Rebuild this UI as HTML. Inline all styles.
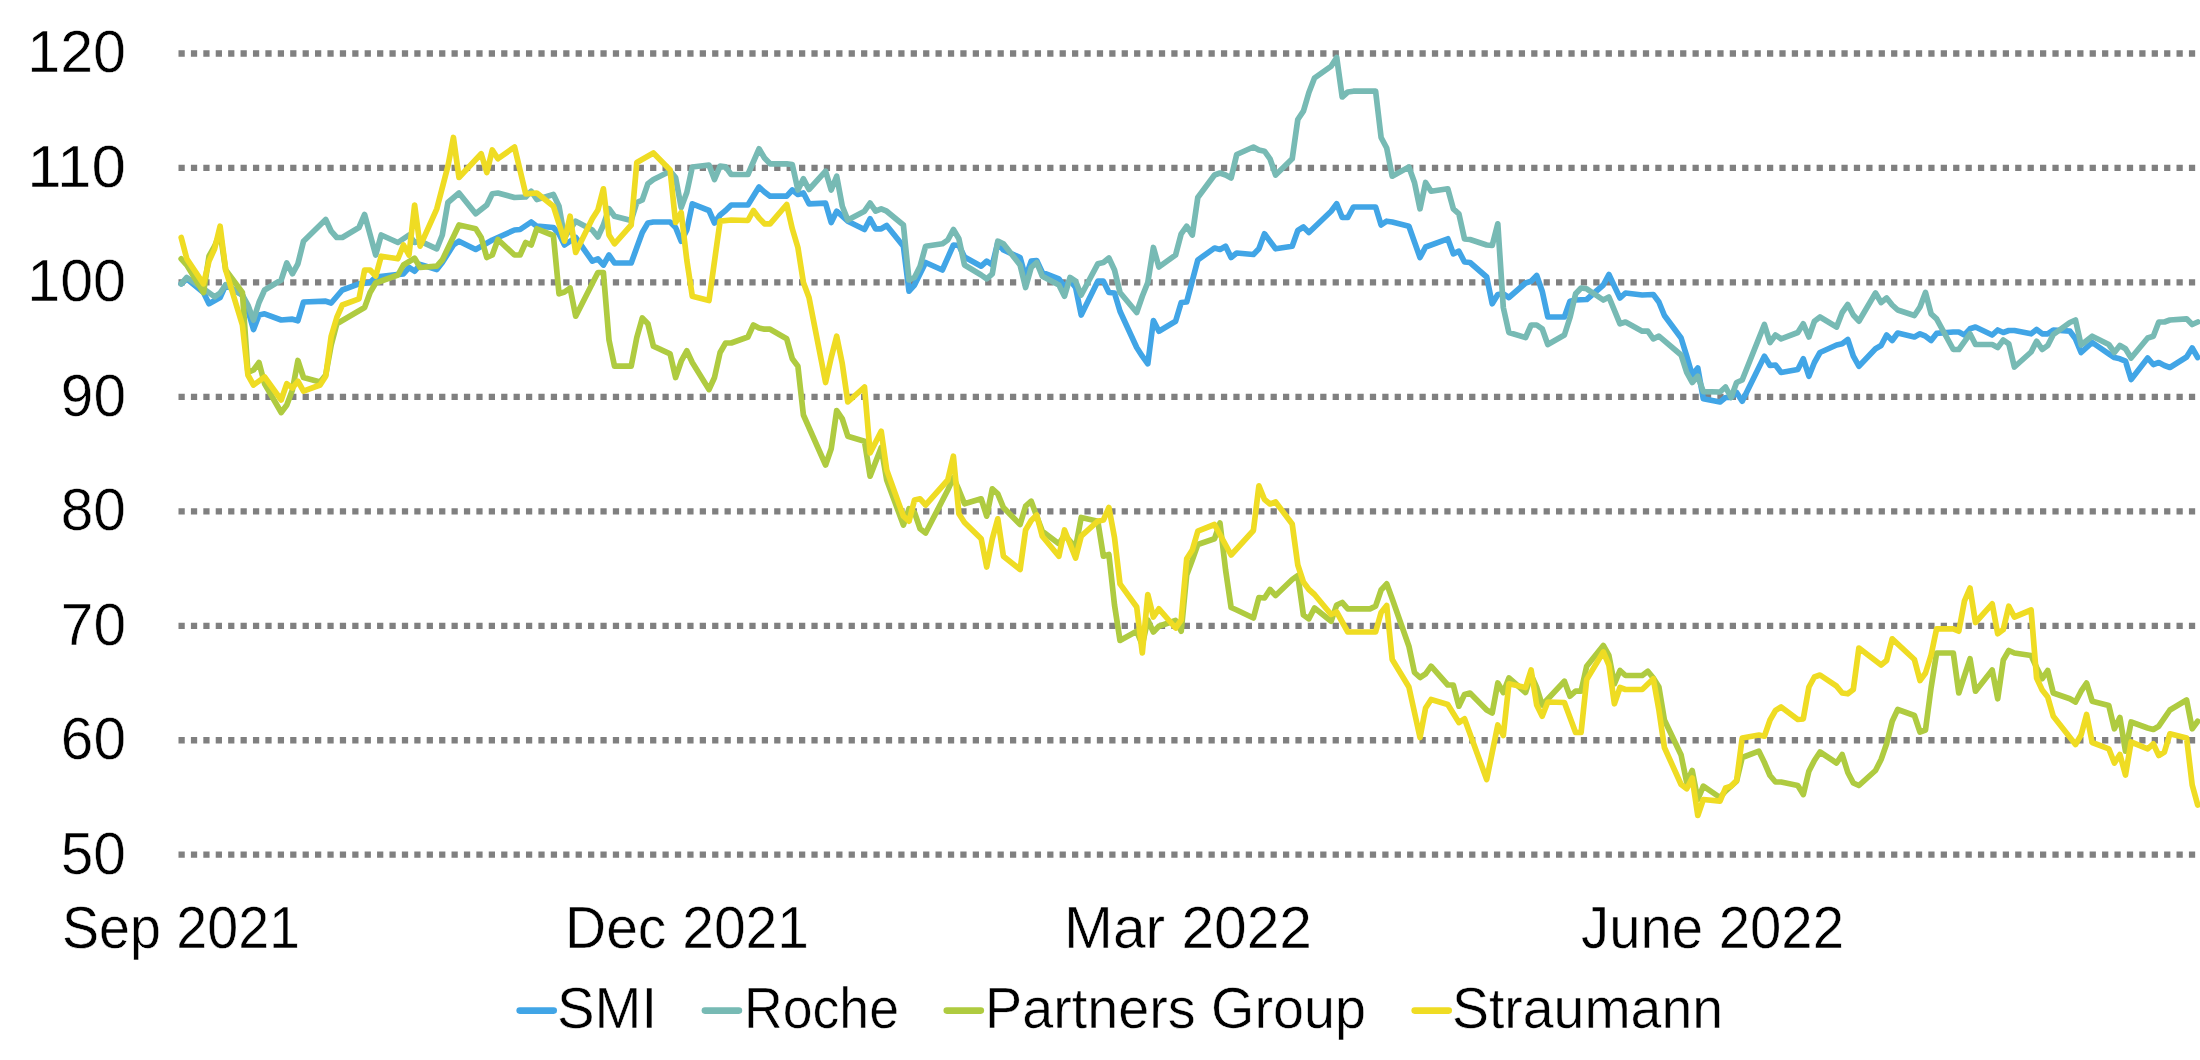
<!DOCTYPE html>
<html><head><meta charset="utf-8"><title>Chart</title>
<style>html,body{margin:0;padding:0;background:#fff}svg{display:block}</style></head>
<body>
<svg width="2200" height="1060" viewBox="0 0 2200 1060">
<rect width="2200" height="1060" fill="#fff"/>
<g stroke="#808080" stroke-width="6.3" stroke-dasharray="6.25 6.16" fill="none">
<line x1="178.5" y1="53.50" x2="2200" y2="53.50"/>
<line x1="178.5" y1="167.96" x2="2200" y2="167.96"/>
<line x1="178.5" y1="282.41" x2="2200" y2="282.41"/>
<line x1="178.5" y1="396.87" x2="2200" y2="396.87"/>
<line x1="178.5" y1="511.33" x2="2200" y2="511.33"/>
<line x1="178.5" y1="625.78" x2="2200" y2="625.78"/>
<line x1="178.5" y1="740.24" x2="2200" y2="740.24"/>
<line x1="178.5" y1="854.70" x2="2200" y2="854.70"/>
</g>
<g fill="none" stroke-width="5.7" stroke-linejoin="round" stroke-linecap="round">
<polyline stroke="#41a5e6" points="181.2,283.8 186.8,278.8 203.5,292.5 209.0,303.8 220.1,297.5 225.7,285.0 242.4,295.0 247.9,310.0 253.5,329.5 259.0,315.0 264.6,313.8 281.2,320.0 292.4,319.2 297.9,320.8 303.5,302.0 325.7,301.2 331.2,303.0 342.3,290.0 359.0,283.8 370.1,282.5 375.7,277.0 403.4,273.8 409.0,267.5 414.6,271.2 420.1,264.5 436.8,269.5 442.3,262.5 453.4,245.0 459.0,241.2 475.7,249.5 492.3,240.0 514.5,230.0 520.1,229.5 531.2,222.0 536.8,226.2 553.4,227.5 559.0,233.8 564.5,245.0 575.7,237.5 592.3,261.2 597.9,258.8 603.4,265.0 609.0,255.0 614.5,263.0 631.2,263.0 636.8,247.5 642.3,232.5 647.9,223.0 653.4,222.0 670.1,222.0 675.6,227.5 681.2,241.2 686.8,230.0 692.3,203.8 709.0,210.5 714.5,223.0 720.1,215.0 725.6,210.6 731.2,205.0 747.9,205.0 759.0,187.0 764.5,192.0 770.1,196.2 786.7,196.2 792.3,190.0 797.9,194.5 803.4,193.0 809.0,203.8 825.6,203.2 831.2,222.5 836.7,211.2 842.3,216.2 847.8,221.2 864.5,229.5 870.1,218.8 875.6,228.8 881.2,228.8 886.7,225.5 903.4,246.2 909.0,291.2 914.5,285.0 925.6,262.5 942.3,270.0 953.4,245.0 958.9,245.5 964.5,257.0 981.2,266.2 986.7,261.2 992.3,265.0 997.8,242.5 1003.4,250.0 1020.1,257.5 1025.6,277.5 1031.2,261.2 1036.7,260.5 1042.3,272.5 1058.9,278.8 1064.5,287.0 1070.0,280.0 1075.6,287.5 1081.2,315.0 1097.8,281.2 1103.4,281.2 1108.9,292.5 1114.5,293.0 1120.0,311.2 1136.7,347.5 1142.3,356.2 1147.8,363.8 1153.4,320.5 1158.9,331.2 1175.6,321.2 1181.2,302.5 1186.7,302.0 1197.8,260.0 1214.5,248.0 1220.0,249.5 1225.6,246.2 1231.1,257.5 1236.7,253.0 1253.4,254.5 1258.9,248.8 1264.5,233.8 1275.6,248.8 1292.2,246.2 1297.8,230.5 1303.4,227.0 1308.9,232.5 1331.1,211.2 1336.7,203.8 1342.2,217.5 1347.8,217.5 1353.4,207.0 1375.6,207.0 1381.1,225.0 1386.7,221.2 1392.2,222.0 1408.9,226.2 1420.0,257.5 1425.6,247.0 1447.8,238.8 1453.3,253.8 1458.9,251.2 1464.5,262.0 1470.0,262.5 1486.7,277.0 1492.2,303.8 1497.8,294.5 1503.3,293.8 1508.9,297.5 1525.6,283.0 1531.1,281.2 1536.7,275.5 1542.2,291.2 1547.8,317.0 1564.4,317.0 1570.0,301.2 1575.6,300.0 1586.7,299.5 1603.3,285.0 1608.9,274.5 1620.0,298.0 1625.5,293.0 1642.2,295.0 1653.3,294.5 1658.9,302.0 1664.4,315.5 1681.1,338.0 1686.7,356.2 1692.2,375.0 1697.8,368.0 1703.3,398.8 1720.0,402.0 1725.5,397.5 1731.1,397.5 1736.6,392.5 1742.2,401.2 1764.4,356.2 1770.0,365.5 1775.5,365.0 1781.1,372.5 1797.8,369.5 1803.3,358.8 1808.9,376.2 1814.4,362.5 1820.0,352.5 1836.6,345.0 1842.2,343.8 1847.8,339.5 1853.3,356.2 1858.9,366.2 1875.5,348.8 1881.1,345.5 1886.6,335.0 1892.2,340.5 1897.7,333.0 1914.4,337.0 1920.0,333.8 1925.5,336.2 1931.1,340.5 1936.6,333.4 1953.3,332.0 1958.8,332.0 1964.4,335.0 1970.0,328.8 1975.5,327.0 1992.2,335.0 1997.7,330.0 2003.3,332.5 2008.8,330.5 2014.4,330.5 2031.1,333.8 2036.6,329.5 2042.2,333.8 2047.7,333.8 2053.3,330.0 2069.9,331.2 2075.5,338.8 2081.1,352.5 2092.2,342.5 2108.8,353.8 2114.4,357.5 2119.9,358.8 2125.5,361.2 2131.1,379.5 2147.7,358.0 2153.3,364.5 2158.8,362.5 2164.4,365.5 2169.9,367.5 2186.6,357.0 2192.2,348.0 2197.7,357.5"/>
<polyline stroke="#77bab4" points="181.2,283.8 186.8,277.5 203.5,288.8 214.6,296.8 220.1,293.0 225.7,284.8 242.4,295.0 247.9,305.0 253.5,320.0 259.0,302.5 264.6,290.0 281.2,280.0 286.8,263.0 292.4,273.8 297.9,263.8 303.5,241.2 325.7,219.5 331.2,231.2 336.8,237.5 342.3,237.5 359.0,227.5 364.6,214.5 375.7,255.0 381.2,235.0 397.9,242.5 409.0,235.0 414.6,242.5 420.1,241.2 436.8,248.8 442.3,235.0 447.9,202.5 459.0,193.0 475.7,213.8 486.8,205.0 492.3,193.8 497.9,193.0 514.5,197.5 525.7,197.0 531.2,191.2 536.8,199.5 553.4,194.5 559.0,206.2 564.5,237.5 575.7,221.2 592.3,230.0 597.9,237.0 603.4,225.0 609.0,208.8 614.5,216.2 631.2,220.5 636.8,202.5 642.3,200.0 647.9,183.8 653.4,179.5 670.1,171.2 675.6,177.5 681.2,207.5 686.8,192.5 692.3,167.0 709.0,165.0 714.5,179.5 720.1,166.2 725.6,166.9 731.2,174.5 747.9,174.5 759.0,148.8 764.5,158.0 770.1,163.8 786.7,163.8 792.3,164.5 797.9,190.0 803.4,178.8 809.0,189.5 825.6,171.2 831.2,190.0 836.7,176.2 842.3,206.2 847.8,220.0 864.5,211.2 870.1,203.0 875.6,211.2 881.2,208.8 886.7,211.2 903.4,225.0 909.0,280.0 914.5,277.5 920.1,266.2 925.6,246.2 942.3,243.8 947.8,240.0 953.4,229.5 958.9,238.8 964.5,265.0 981.2,275.0 986.7,278.8 992.3,273.8 997.8,241.2 1003.4,243.8 1020.1,265.0 1025.6,287.5 1031.2,267.5 1036.7,262.5 1042.3,276.2 1058.9,285.0 1064.5,296.2 1070.0,277.5 1075.6,281.2 1081.2,295.0 1097.8,263.8 1103.4,262.5 1108.9,258.0 1114.5,270.0 1120.0,292.5 1136.7,312.5 1142.3,296.2 1147.8,282.5 1153.4,247.5 1158.9,267.0 1175.6,255.0 1181.2,233.8 1186.7,226.2 1192.3,235.0 1197.8,197.5 1214.5,175.0 1220.0,173.0 1225.6,175.0 1231.1,178.0 1236.7,154.5 1253.4,147.0 1258.9,150.0 1264.5,151.2 1270.0,158.8 1275.6,175.0 1292.2,158.8 1297.8,119.5 1303.4,111.2 1308.9,92.5 1314.5,78.0 1331.1,66.2 1336.7,57.5 1342.2,97.0 1347.8,92.0 1353.4,91.2 1375.6,91.2 1381.1,137.5 1386.7,148.0 1392.2,176.2 1408.9,167.0 1414.5,182.5 1420.0,208.8 1425.6,182.5 1431.1,191.2 1447.8,188.8 1453.3,208.8 1458.9,213.8 1464.5,238.8 1470.0,239.5 1486.7,245.0 1492.2,245.5 1497.8,223.8 1503.3,307.5 1508.9,332.5 1525.6,337.5 1531.1,325.0 1536.7,325.0 1542.2,328.8 1547.8,344.5 1564.4,335.0 1570.0,317.5 1575.6,293.8 1581.1,288.0 1586.7,288.8 1603.3,300.0 1608.9,297.0 1620.0,323.8 1625.5,322.0 1642.2,331.2 1647.8,331.2 1653.3,338.8 1658.9,336.2 1681.1,355.0 1686.7,372.5 1692.2,382.5 1697.8,376.2 1703.3,391.6 1720.0,392.0 1725.5,387.0 1731.1,397.5 1736.6,382.5 1742.2,380.0 1764.4,324.5 1770.0,342.5 1775.5,335.0 1781.1,338.8 1797.8,332.5 1803.3,323.8 1808.9,337.0 1814.4,321.2 1820.0,317.0 1836.6,327.0 1842.2,312.5 1847.8,304.5 1853.3,315.0 1858.9,321.2 1875.5,293.0 1881.1,302.5 1886.6,298.0 1892.2,305.0 1897.7,310.0 1914.4,315.5 1920.0,307.0 1925.5,292.5 1931.1,313.8 1936.6,318.8 1953.3,349.5 1958.8,349.5 1970.0,333.8 1975.5,344.5 1992.2,344.5 1997.7,347.5 2003.3,340.0 2008.8,343.8 2014.4,367.0 2031.1,352.0 2036.6,341.2 2042.2,349.5 2047.7,345.5 2053.3,334.5 2069.9,322.5 2075.5,320.0 2081.1,345.0 2092.2,336.2 2108.8,344.5 2114.4,352.5 2119.9,345.5 2125.5,348.8 2131.1,358.0 2147.7,338.0 2153.3,336.2 2158.8,322.0 2164.4,322.0 2169.9,320.0 2186.6,318.8 2192.2,324.5 2197.7,322.0"/>
<polyline stroke="#afcb40" points="181.2,258.8 186.8,265.0 203.5,292.5 209.0,256.2 214.6,246.2 220.1,232.5 225.7,270.0 242.4,292.5 247.9,372.5 253.5,370.0 259.0,362.5 264.6,383.8 281.2,412.5 286.8,405.0 292.4,390.0 297.9,360.5 303.5,377.5 320.1,382.0 325.7,375.0 331.2,345.0 336.8,323.8 364.6,307.5 370.1,292.5 375.7,283.0 397.9,275.0 403.4,265.0 414.6,258.2 420.1,267.5 436.8,266.2 442.3,260.0 459.0,225.0 475.7,228.8 481.2,237.5 486.8,257.5 492.3,255.0 497.9,239.5 514.5,255.0 520.1,255.0 525.7,242.5 531.2,245.0 536.8,228.8 553.4,235.5 559.0,293.8 564.5,292.0 570.1,288.0 575.7,316.2 597.9,272.5 603.4,272.5 609.0,340.0 614.5,366.2 631.2,366.2 636.8,337.5 642.3,318.0 647.9,323.8 653.4,346.2 670.1,353.8 675.6,377.5 681.2,361.2 686.8,350.8 692.3,362.5 709.0,389.5 714.5,377.5 720.1,352.5 725.6,343.0 731.2,343.0 747.9,337.0 753.4,325.0 759.0,328.0 764.5,329.2 770.1,329.2 786.7,338.8 792.3,358.8 797.9,366.2 803.4,415.0 825.6,465.0 831.2,448.8 836.7,410.5 842.3,418.8 847.8,436.2 864.5,441.2 870.1,476.2 881.2,447.5 886.7,480.0 903.4,525.0 909.0,508.8 914.5,512.5 920.1,528.8 925.6,533.0 947.8,490.0 953.4,477.5 958.9,490.0 964.5,503.8 981.2,498.8 986.7,516.2 992.3,488.8 997.8,493.8 1003.4,507.5 1020.1,524.5 1025.6,506.2 1031.2,501.2 1036.7,516.2 1042.3,531.2 1058.9,543.8 1064.5,535.0 1075.6,547.5 1081.2,517.5 1097.8,521.2 1103.4,556.2 1108.9,554.5 1114.5,605.0 1120.0,640.5 1136.7,631.2 1142.3,645.0 1147.8,620.0 1153.4,632.0 1158.9,626.2 1175.6,620.5 1181.2,631.2 1186.7,575.0 1192.3,560.0 1197.8,544.5 1214.5,538.8 1220.0,523.0 1225.6,570.0 1231.1,607.5 1236.7,610.0 1253.4,618.0 1258.9,597.5 1264.5,598.0 1270.0,589.5 1275.6,595.5 1292.2,579.5 1297.8,575.5 1303.4,615.0 1308.9,618.8 1314.5,608.0 1331.1,621.2 1336.7,605.0 1342.2,602.5 1347.8,608.8 1370.0,608.8 1375.6,606.2 1381.1,590.0 1386.7,583.8 1392.2,598.8 1408.9,646.2 1414.5,672.5 1420.0,677.5 1425.6,673.8 1431.1,666.2 1447.8,685.0 1453.3,685.0 1458.9,706.2 1464.5,694.5 1470.0,693.0 1486.7,710.0 1492.2,713.0 1497.8,683.0 1503.3,692.5 1508.9,678.0 1525.6,692.5 1531.1,675.0 1536.7,687.5 1542.2,705.0 1564.4,681.2 1570.0,696.2 1575.6,691.2 1581.1,691.2 1586.7,666.2 1603.3,645.5 1608.9,655.5 1614.4,683.8 1620.0,670.5 1625.5,675.5 1642.2,675.5 1647.8,671.2 1653.3,678.0 1658.9,687.0 1664.4,720.0 1681.1,755.0 1686.7,782.5 1692.2,770.5 1697.8,799.5 1703.3,786.2 1720.0,797.5 1725.5,791.2 1736.6,781.2 1742.2,757.5 1758.9,751.2 1764.4,762.5 1770.0,775.5 1775.5,782.0 1781.1,782.0 1797.8,785.5 1803.3,794.5 1808.9,771.2 1814.4,760.5 1820.0,752.0 1836.6,763.0 1842.2,754.5 1847.8,772.5 1853.3,783.0 1858.9,785.5 1875.5,770.5 1881.1,759.5 1886.6,743.8 1892.2,721.2 1897.7,709.5 1914.4,715.5 1920.0,732.0 1925.5,730.0 1931.1,687.5 1936.6,653.0 1953.3,653.0 1958.8,693.0 1970.0,658.8 1975.5,691.2 1992.2,670.0 1997.7,698.8 2003.3,660.0 2008.8,650.5 2014.4,653.0 2031.1,655.5 2036.6,667.5 2042.2,678.8 2047.7,670.5 2053.3,693.0 2069.9,698.8 2075.5,702.0 2081.1,691.2 2086.6,683.0 2092.2,701.2 2108.8,705.5 2114.4,728.8 2119.9,717.5 2125.5,751.2 2131.1,722.0 2147.7,728.0 2153.3,729.5 2158.8,726.2 2169.9,710.0 2186.6,700.0 2192.2,728.8 2197.7,721.2"/>
<polyline stroke="#efdc23" points="181.2,237.5 186.8,258.8 203.5,283.8 209.0,261.2 214.6,248.8 220.1,226.2 225.7,270.0 242.4,325.0 247.9,375.0 253.5,385.0 264.6,377.0 281.2,400.0 286.8,383.8 292.4,388.0 297.9,381.2 303.5,391.2 320.1,385.0 325.7,376.2 331.2,336.2 336.8,317.5 342.3,305.0 359.0,298.8 364.6,270.0 370.1,270.0 375.7,276.2 381.2,256.2 397.9,258.8 403.4,245.0 409.0,255.0 414.6,205.0 420.1,246.2 436.8,208.8 447.9,166.2 453.4,137.5 459.0,177.5 481.2,153.8 486.8,172.5 492.3,150.0 497.9,158.8 514.5,147.0 525.7,193.8 536.8,193.0 553.4,206.2 564.5,241.2 570.1,216.2 575.7,252.5 592.3,218.8 597.9,210.0 603.4,188.8 609.0,235.0 614.5,243.8 631.2,225.0 636.8,162.5 653.4,153.0 670.1,170.0 675.6,222.5 681.2,212.5 686.8,260.0 692.3,296.2 709.0,300.5 720.1,221.2 731.2,220.0 747.9,220.5 753.4,210.5 759.0,218.0 764.5,223.8 770.1,223.8 786.7,204.5 792.3,228.8 797.9,247.5 803.4,282.5 809.0,297.5 825.6,382.5 831.2,357.5 836.7,336.2 842.3,363.8 847.8,402.0 864.5,387.0 870.1,453.0 881.2,431.2 886.7,470.0 903.4,516.2 909.0,521.2 914.5,500.0 920.1,498.8 925.6,505.0 947.8,480.0 953.4,456.2 958.9,513.8 964.5,522.5 981.2,538.8 986.7,567.0 992.3,538.8 997.8,518.8 1003.4,556.2 1020.1,569.5 1025.6,530.0 1031.2,520.5 1036.7,515.0 1042.3,536.2 1058.9,556.2 1064.5,530.0 1075.6,558.0 1081.2,536.2 1097.8,521.2 1103.4,520.0 1108.9,507.5 1114.5,537.5 1120.0,583.8 1136.7,607.0 1142.3,653.0 1147.8,594.5 1153.4,617.0 1158.9,608.8 1175.6,628.0 1181.2,620.0 1186.7,558.8 1192.3,550.0 1197.8,531.2 1214.5,524.5 1231.1,555.0 1253.4,530.5 1258.9,485.9 1264.5,499.5 1270.0,504.0 1275.6,502.0 1292.2,524.0 1297.8,565.0 1303.4,582.0 1308.9,589.5 1314.5,594.5 1331.1,614.5 1336.7,612.0 1347.8,632.0 1375.6,632.0 1381.1,612.5 1386.7,605.5 1392.2,659.5 1408.9,687.0 1420.0,737.5 1425.6,708.0 1431.1,699.5 1447.8,704.5 1458.9,722.5 1464.5,718.8 1486.7,779.5 1497.8,725.0 1503.3,735.5 1508.9,683.8 1525.6,687.5 1531.1,670.0 1536.7,705.0 1542.2,716.2 1547.8,702.0 1564.4,702.5 1575.6,732.5 1581.1,732.5 1586.7,679.5 1603.3,652.0 1608.9,665.0 1614.4,703.8 1620.0,687.5 1625.5,689.5 1642.2,689.5 1653.3,678.8 1658.9,710.0 1664.4,747.5 1681.1,784.5 1686.7,788.8 1692.2,778.0 1697.8,815.5 1703.3,799.5 1720.0,801.2 1725.5,788.0 1731.1,786.2 1736.6,780.5 1742.2,738.0 1758.9,735.0 1764.4,736.2 1770.0,720.0 1775.5,710.5 1781.1,707.0 1797.8,719.5 1803.3,718.8 1808.9,687.0 1814.4,677.0 1820.0,675.0 1836.6,686.2 1842.2,693.0 1847.8,693.8 1853.3,689.5 1858.9,648.0 1881.1,665.0 1886.6,660.5 1892.2,638.8 1914.4,659.5 1920.0,680.5 1925.5,673.0 1931.1,655.0 1936.6,628.8 1953.3,628.8 1958.8,631.2 1964.4,601.2 1970.0,588.0 1975.5,622.5 1992.2,603.8 1997.7,633.8 2003.3,629.5 2008.8,606.2 2014.4,617.0 2031.1,610.0 2036.6,678.0 2042.2,690.0 2047.7,697.0 2053.3,716.2 2075.5,744.5 2081.1,735.0 2086.6,714.5 2092.2,742.5 2108.8,748.8 2114.4,763.0 2119.9,754.5 2125.5,775.0 2131.1,742.0 2147.7,748.8 2153.3,743.8 2158.8,755.5 2164.4,752.0 2169.9,733.8 2186.6,738.0 2192.2,785.0 2197.7,805.0"/>
</g>
<g font-family="'Liberation Sans', sans-serif" font-size="59" fill="#000" stroke="#fff" stroke-width="0.5">
<text x="27.25" y="72.45" textLength="98.73" lengthAdjust="spacingAndGlyphs">120</text>
<text x="27.25" y="186.91" textLength="98.73" lengthAdjust="spacingAndGlyphs">110</text>
<text x="27.25" y="301.36" textLength="98.73" lengthAdjust="spacingAndGlyphs">100</text>
<text x="60.82" y="415.82" textLength="65.15" lengthAdjust="spacingAndGlyphs">90</text>
<text x="60.81" y="530.28" textLength="65.17" lengthAdjust="spacingAndGlyphs">80</text>
<text x="60.83" y="644.74" textLength="65.15" lengthAdjust="spacingAndGlyphs">70</text>
<text x="60.83" y="759.19" textLength="65.15" lengthAdjust="spacingAndGlyphs">60</text>
<text x="60.81" y="873.65" textLength="65.17" lengthAdjust="spacingAndGlyphs">50</text>
<text x="62.00" y="947.75" textLength="238.00" lengthAdjust="spacingAndGlyphs">Sep 2021</text>
<text x="565.00" y="947.75" textLength="244.00" lengthAdjust="spacingAndGlyphs">Dec 2021</text>
<text x="1064.00" y="947.75" textLength="248.00" lengthAdjust="spacingAndGlyphs">Mar 2022</text>
<text x="1581.00" y="947.75" textLength="263.00" lengthAdjust="spacingAndGlyphs">June 2022</text>
<text x="556.96" y="1028.25" font-size="57" textLength="100.15" lengthAdjust="spacingAndGlyphs">SMI</text>
<text x="744.02" y="1028.25" font-size="57" textLength="154.96" lengthAdjust="spacingAndGlyphs">Roche</text>
<text x="984.99" y="1028.25" font-size="57" textLength="381.02" lengthAdjust="spacingAndGlyphs">Partners Group</text>
<text x="1451.98" y="1028.25" font-size="57" textLength="271.05" lengthAdjust="spacingAndGlyphs">Straumann</text>
</g>
<g stroke-width="6.6" stroke-linecap="round" fill="none">
<line x1="519.7" y1="1010.6" x2="553.7" y2="1010.6" stroke="#41a5e6"/>
<line x1="704.9" y1="1010.6" x2="738.9" y2="1010.6" stroke="#77bab4"/>
<line x1="946.8" y1="1010.6" x2="980.8" y2="1010.6" stroke="#afcb40"/>
<line x1="1414.7" y1="1010.6" x2="1448.7" y2="1010.6" stroke="#efdc23"/>
</g>
</svg>
</body></html>
